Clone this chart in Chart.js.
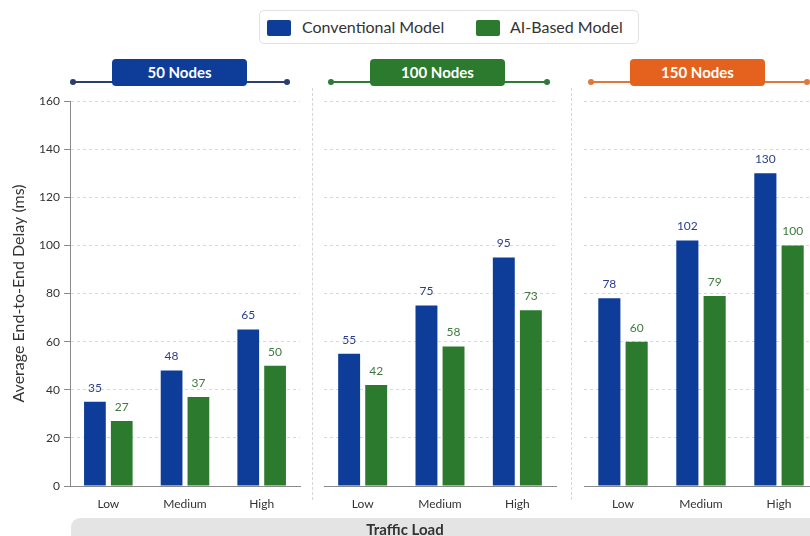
<!DOCTYPE html>
<html>
<head>
<meta charset="utf-8">
<script src="https://cdn.jsdelivr.net/npm/chart.js@4"></script>
<style>
  html, body { margin: 0; padding: 0; background: #fff; }
  body { width: 810px; height: 536px; position: relative; overflow: hidden; font-family: Lato, "Noto Sans", sans-serif; }
  canvas { position: absolute; top: 0; }
  .legend { position: absolute; left: 259px; top: 10px; width: 380px; height: 34px; border: 1px solid #e2e2e2; border-radius: 5px; box-sizing: border-box; background: #fff; }
  .legend span { position: absolute; top: 6px; font-size: 16px; color: #333; }
  .legend i { position: absolute; top: 9px; width: 24px; height: 16px; border-radius: 2px; }
  .hdr-line { position: absolute; height: 1.5px; top: 81px; }
  .hdr-line:before, .hdr-line:after { content: ""; position: absolute; top: -2.5px; width: 6px; height: 6px; border-radius: 50%; background: inherit; }
  .hdr-line:before { left: -3px; }
  .hdr-line:after { right: -3px; }
  .pill { position: absolute; top: 59px; height: 27px; width: 135px; border-radius: 4px; color: #fff; font-weight: bold; font-size: 15px; text-align: center; line-height: 27px; }
  .sep { position: absolute; top: 88px; height: 412px; border-left: 1px dashed #d6d6d6; }
  .xbar { position: absolute; left: 71px; top: 518px; width: 760px; height: 30px; background: #e4e4e4; border-radius: 9px; }
  .xbar span { position: absolute; left: 0; width: 668px; top: 2px; text-align: center; font-size: 15px; font-weight: bold; color: #333; }
</style>
</head>
<body>
<div class="legend">
  <i style="left:7px;background:#0d3d98"></i><span style="left:42px">Conventional Model</span>
  <i style="left:216px;background:#2b7a2e"></i><span style="left:250px">AI-Based Model</span>
</div>

<div class="hdr-line" style="left:73px;width:214px;background:#2a3f6e"></div>
<div class="pill" style="left:112px;background:#0d3d98">50 Nodes</div>
<div class="hdr-line" style="left:331px;width:216px;background:#2f7a38"></div>
<div class="pill" style="left:370px;background:#2b7a2e">100 Nodes</div>
<div class="hdr-line" style="left:591px;width:216px;background:#e0783a"></div>
<div class="pill" style="left:630px;background:#e4621d">150 Nodes</div>

<div class="sep" style="left:312px"></div>
<div class="sep" style="left:571px"></div>

<canvas id="c50" width="305" height="536" style="left:0"></canvas>
<canvas id="c100" width="248" height="536" style="left:312px"></canvas>
<canvas id="c150" width="250" height="536" style="left:572px"></canvas>

<div class="xbar"><span>Traffic Load</span></div>

<script>
// traffic load categories and delay values (ms) per network size
const loads = ['Low', 'Medium', 'High'];
const conv50 = [35, 48, 65];
const ai50 = [27, 37, 50];
const conv100 = [55, 75, 95];
const ai100 = [42, 58, 73];
const conv150 = [78, 102, 130];
const ai150 = [60, 79, 100];
const yMax = 160;
const yStep = 20;

const blue = '#0d3d98';
const green = '#2b7a2e';

// writes each bar's value just above it
const valueLabels = {
  id: 'valueLabels',
  afterDatasetsDraw(chart) {
    const ctx = chart.ctx;
    ctx.save();
    ctx.font = '12px Lato, "Noto Sans", sans-serif';
    ctx.textAlign = 'center';
    ctx.textBaseline = 'bottom';
    chart.data.datasets.forEach((ds, i) => {
      ctx.fillStyle = ds.labelColor;
      chart.getDatasetMeta(i).data.forEach((bar, j) => {
        ctx.fillText(ds.data[j], bar.x, bar.y - 8);
      });
    });
    ctx.restore();
  }
};

function makeChart(id, conv, ai, first) {
  new Chart(document.getElementById(id), {
    type: 'bar',
    data: {
      labels: loads,
      datasets: [
        { label: 'Conventional Model', data: conv, backgroundColor: blue, labelColor: '#2c3f8c' },
        { label: 'AI-Based Model', data: ai, backgroundColor: green, labelColor: '#3d7a3f' }
      ]
    },
    options: {
      responsive: false,
      animation: false,
      devicePixelRatio: 1,
      layout: { padding: { top: 101, bottom: 0, left: first ? 0 : 12, right: first ? 5 : 4 } },
      datasets: { bar: { categoryPercentage: 0.7, barPercentage: 0.81 } },
      plugins: { legend: { display: false }, tooltip: { enabled: false } },
      scales: {
        x: {
          afterFit: s => { s.height = 50; },
          grid: { display: false },
          border: { color: '#8a8a8a' },
          ticks: { color: '#333', padding: 3, font: { family: 'Lato', size: 12 } }
        },
        y: {
          min: 0,
          max: yMax,
          afterFit: s => { s.width = first ? 70 : 0; },
          border: { display: first, color: '#8a8a8a', dash: [3, 3] },
          grid: {
            color: '#d9d9d9',
            drawTicks: first,
            tickLength: 6,
            tickColor: '#8a8a8a',
            tickBorderDash: []
          },
          ticks: {
            display: first,
            stepSize: yStep,
            color: '#333',
            padding: 4,
            font: { family: 'Lato', size: 12 }
          },
          title: {
            display: first,
            text: 'Average End-to-End Delay (ms)',
            color: '#333',
            padding: { top: 9, bottom: 0 },
            font: { family: 'Lato', size: 16 }
          }
        }
      }
    },
    plugins: [valueLabels]
  });
}

makeChart('c50', conv50, ai50, true);
makeChart('c100', conv100, ai100, false);
makeChart('c150', conv150, ai150, false);
</script>
</body>
</html>
